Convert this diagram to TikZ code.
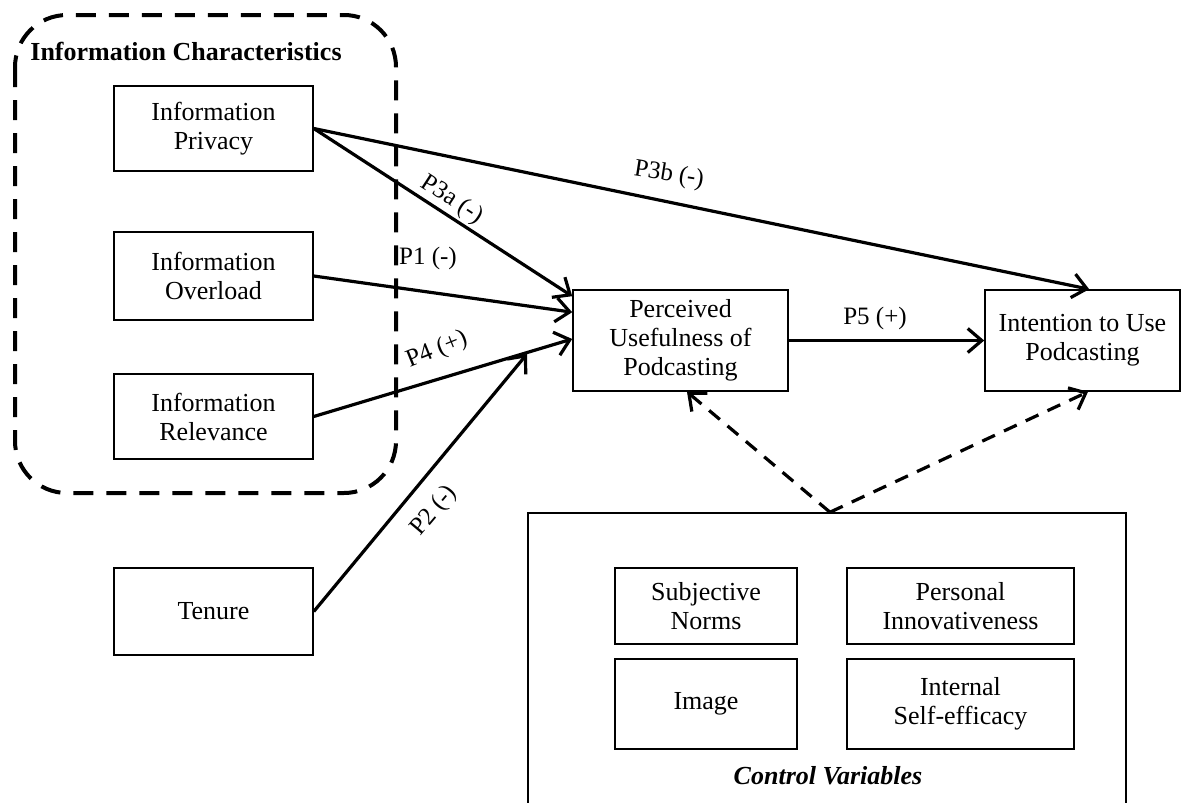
\documentclass[tikz,border=0pt]{standalone}
\usepackage{fontspec}
\setmainfont{Liberation Serif}
\usetikzlibrary{arrows.meta,calc}
\begin{document}
\begin{tikzpicture}[x=0.5pt,y=-0.5pt,
  box/.style={draw,line width=0.8pt,align=center,inner sep=0pt,font=\fontsize{13}{14.5}\selectfont},
  arr/.style={line width=1.6pt,-{Straight Barb[length=7pt,width=12pt]}},
  darr/.style={arr,dash pattern=on 7pt off 5pt},
  lbl/.style={font=\fontsize{12.5}{14}\selectfont,inner sep=0pt}]
\clip (0,0) rectangle (1195,803);
\fill[white] (0,0) rectangle (1195,803);
% group
\draw[line width=2pt,dash pattern=on 10pt off 6.5pt,rounded corners=26pt] (15,15) rectangle (396,493);
\node[anchor=base west,inner sep=0pt,font=\fontsize{13}{14}\selectfont\bfseries] (title) at (30,61) {Information Characteristics};
% left boxes
\node[box,minimum width=99.5pt,minimum height=42.5pt] (priv) at (213.5,128.5) {Information\\Privacy};
\node[box,minimum width=99.5pt,minimum height=44pt] (over) at (213.5,276) {Information\\Overload};
\node[box,minimum width=99.5pt,minimum height=42.5pt] (rel) at (213.5,416.5) {Information\\Relevance};
\node[box,minimum width=99.5pt,minimum height=43.5pt] (ten) at (213.5,611.5) {Tenure};
% main boxes
\node[box,minimum width=107.5pt,minimum height=50.5pt] (pu) at (680.5,340.5) {Perceived\\Usefulness of\\Podcasting};
\node[box,minimum width=97.5pt,minimum height=50.5pt] (int) at (1082.5,340.5) {Intention to Use\\Podcasting};
% control
\node[box,minimum width=299pt,minimum height=147pt] (ctrl) at (827,660) {};
\node[box,minimum width=91pt,minimum height=38pt] (sn) at (706,606) {Subjective\\Norms};
\node[box,minimum width=113.5pt,minimum height=38pt] (pi) at (960.5,606) {Personal\\Innovativeness};
\node[box,minimum width=91pt,minimum height=45pt] (img) at (706,704) {Image};
\node[box,minimum width=113.5pt,minimum height=45pt] (ise) at (960.5,704) {Internal\\Self-efficacy};
\node[lbl,font=\fontsize{13}{14}\selectfont\bfseries\itshape] (cv) at (828,776) {Control Variables};
% arrows
\coordinate (p2end) at (527,354);
\draw[arr] (priv.east) -- ($(pu.north west)+(0,7)$);
\draw[arr] (priv.east) -- ($(int.north west)+(105,0)$);
\draw[arr] (over.east) -- ($(pu.north west)+(0,23)$);
\draw[arr] (rel.east) -- ($(pu.west)+(0,-1.5)$);
\draw[arr] (ten.east) -- (p2end);
\draw[arr] (pu.east) -- (int.west);
\draw[darr] ($(ctrl.north)+(3,0)$) -- ($(pu.south)+(6.5,0)$);
\draw[darr] ($(ctrl.north)+(3,0)$) -- ($(int.south)+(5.5,0)$);
% labels
\node[lbl,rotate=-33] (l3a) at (452,200) {P3a (-)};
\node[lbl] (l1) at (428,258) {P1 (-)};
\node[lbl,rotate=22] (l4) at (437,350) {P4 (+)};
\node[lbl,rotate=50] (l2) at (434,511) {P2 (-)};
\node[lbl,rotate=-9] (l3b) at (669,175) {P3b (-)};
\node[lbl] (l5) at (875,318) {P5 (+)};
\end{tikzpicture}
\end{document}
